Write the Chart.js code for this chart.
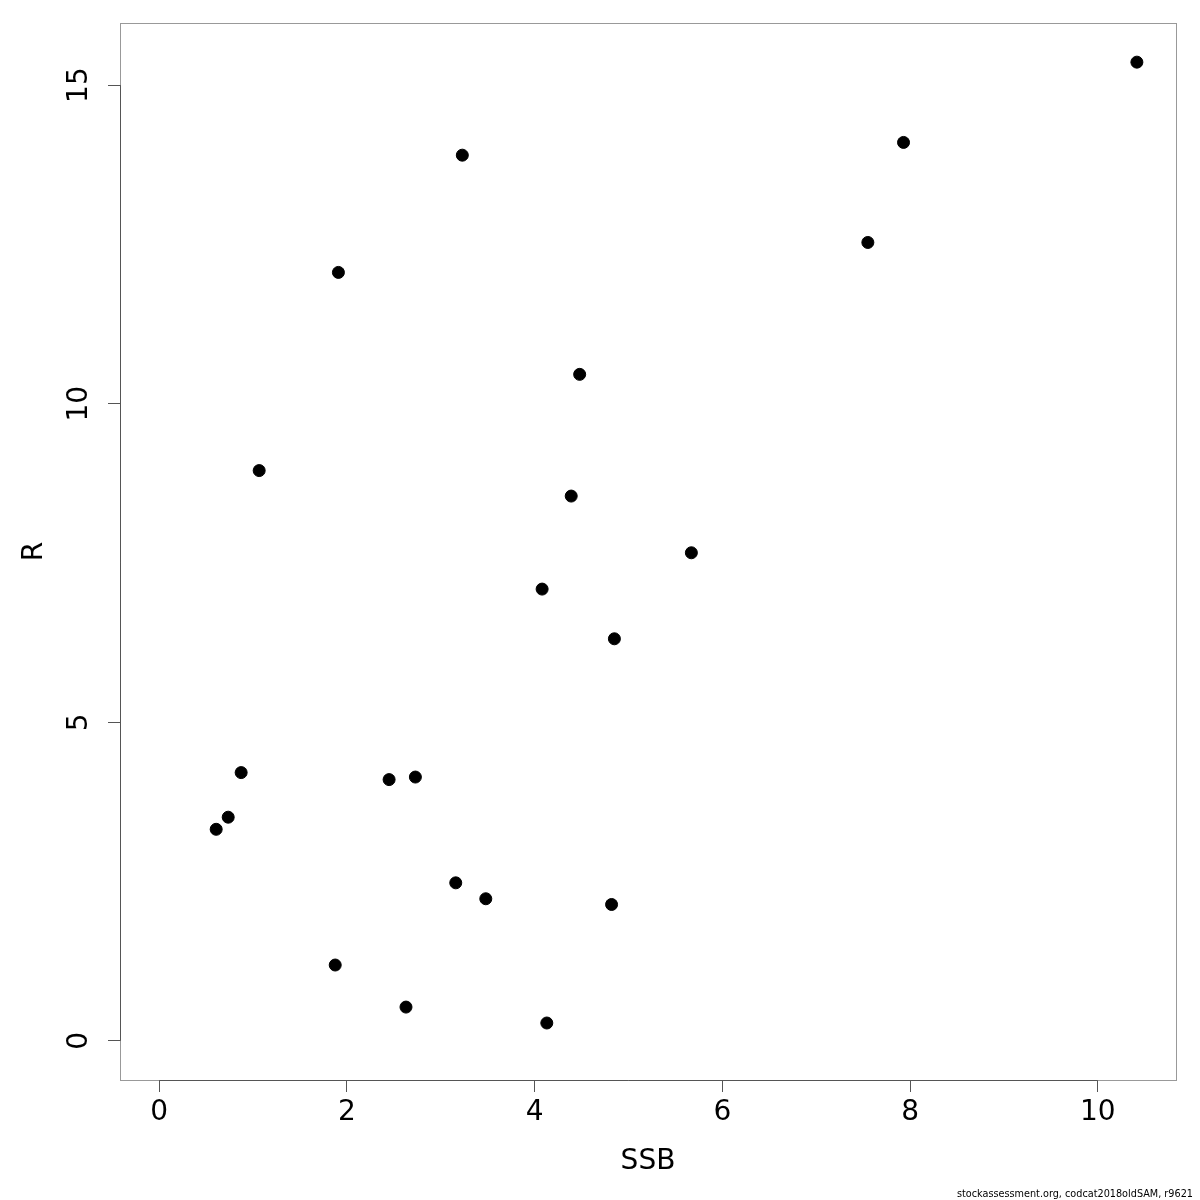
<!DOCTYPE html>
<html>
<head>
<meta charset="utf-8">
<script src="https://cdn.jsdelivr.net/npm/chart.js@4/dist/chart.umd.min.js"></script>
<style>
  html, body { margin: 0; padding: 0; background: #fff; }
  #wrap { width: 1200px; height: 1200px; }
</style>
</head>
<body>
<div id="wrap"><canvas id="c"></canvas></div>
<script>
// spawning stock biomass vs recruitment
const ssb = [10.416, 7.93, 3.23, 7.55, 1.91, 4.48, 1.066, 4.39, 5.67, 4.08, 4.85,
             0.874, 2.45, 2.73, 0.736, 0.608, 3.16, 3.48, 4.82, 1.876, 2.63, 4.13];
const rec = [15.36, 14.10, 13.90, 12.53, 12.06, 10.46, 8.95, 8.55, 7.66, 7.09, 6.31,
             4.21, 4.10, 4.14, 3.51, 3.32, 2.48, 2.23, 2.14, 1.19, 0.53, 0.28];
const xTicks = [0, 2, 4, 6, 8, 10];
const yTicks = [0, 5, 10, 15];
const footer = 'stockassessment.org, codcat2018oldSAM, r9621';

const xMax = Math.max(...ssb), yMax = Math.max(...rec);
const points = ssb.map((v, i) => ({ x: v, y: rec[i] }));

const FONT = 'DejaVu Sans';

// box + dark axis segments + footer, R style
const rFrame = {
  id: 'rFrame',
  afterDraw(chart) {
    const { ctx, chartArea: a, scales } = chart;
    ctx.save();
    ctx.lineWidth = 1;
    ctx.strokeStyle = '#999999';
    ctx.strokeRect(a.left + 0.5, a.top + 0.5, a.right - a.left, a.bottom - a.top);
    ctx.strokeStyle = '#555555';
    ctx.beginPath();
    const x0 = scales.x.getPixelForValue(xTicks[0]);
    const x1 = scales.x.getPixelForValue(xTicks[xTicks.length - 1]);
    ctx.moveTo(x0, a.bottom + 0.5); ctx.lineTo(x1, a.bottom + 0.5);
    const y0 = scales.y.getPixelForValue(yTicks[0]);
    const y1 = scales.y.getPixelForValue(yTicks[yTicks.length - 1]);
    ctx.moveTo(a.left + 0.5, y0); ctx.lineTo(a.left + 0.5, y1);
    ctx.stroke();
    ctx.fillStyle = '#000';
    ctx.font = '9.7px ' + FONT;
    ctx.textAlign = 'right';
    ctx.textBaseline = 'alphabetic';
    ctx.fillText(footer, 1193, 1197);
    ctx.restore();
  }
};

const noPad = s => { s.paddingTop = 0; s.paddingBottom = 0; s.paddingLeft = 0; s.paddingRight = 0; };

new Chart(document.getElementById('c'), {
  type: 'scatter',
  data: {
    datasets: [{
      data: points,
      backgroundColor: '#000',
      borderColor: '#000',
      pointRadius: 6,
      pointHoverRadius: 6
    }]
  },
  options: {
    responsive: true,
    maintainAspectRatio: false,
    animation: false,
    events: [],
    layout: { padding: { left: 0, top: 23, right: 24, bottom: 0 } },
    plugins: { legend: { display: false }, tooltip: { enabled: false } },
    scales: {
      x: {
        type: 'linear',
        min: -0.04 * xMax,
        max: xMax * 1.04,
        afterBuildTicks: s => { s.ticks = xTicks.map(v => ({ value: v })); },
        afterFit: s => { s.height = 120; noPad(s); },
        border: { display: false },
        grid: { drawOnChartArea: false, drawTicks: true, tickLength: 12, color: '#555555' },
        ticks: { color: '#000', font: { family: FONT, size: 28 }, padding: 4, maxRotation: 0 },
        title: { display: true, text: 'SSB', color: '#000', font: { family: FONT, size: 28 }, padding: { top: 0, bottom: 21 } }
      },
      y: {
        type: 'linear',
        min: -0.04 * yMax,
        max: yMax * 1.04,
        afterBuildTicks: s => { s.ticks = yTicks.map(v => ({ value: v })); },
        afterFit: s => { s.width = 120; noPad(s); },
        border: { display: false },
        grid: { drawOnChartArea: false, drawTicks: true, tickLength: 12, color: '#555555' },
        ticks: { color: '#000', font: { family: FONT, size: 28 }, padding: 10, minRotation: 90, maxRotation: 90, crossAlign: 'center' },
        title: { display: true, text: 'R', color: '#000', font: { family: FONT, size: 28 }, padding: { top: 18, bottom: 18 } }
      }
    }
  },
  plugins: [rFrame]
});
</script>
</body>
</html>
